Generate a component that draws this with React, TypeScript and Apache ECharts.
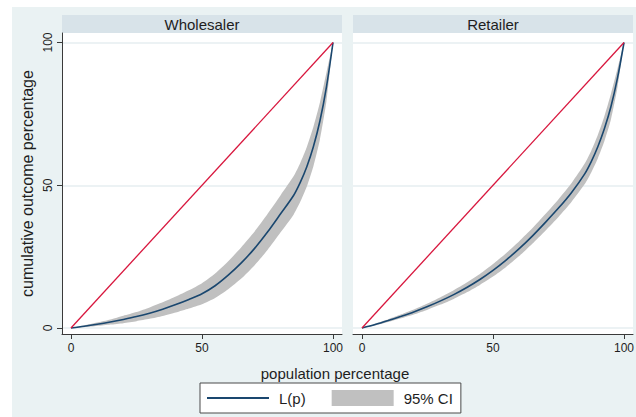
import React, { useEffect, useRef } from "react";
import * as echarts from "echarts";

// population share (x) at which the Lorenz curves were read
const popShares = [0, 5, 10, 15, 20, 25, 30, 35, 40, 45, 50, 55, 60, 65, 70, 75, 80, 85, 87.5, 90, 92.5, 95, 97.5, 100];

// Wholesaler panel
const wholesalerL = [0, 0.6, 1.3, 2.1, 3.0, 4.0, 5.2, 6.6, 8.2, 10.0, 12.0, 14.8, 18.5, 22.8, 27.8, 33.6, 40.0, 46.5, 51.0, 56.5, 63.5, 72.5, 84.5, 100];
const wholesalerLo = [0, 0.3, 0.7, 1.2, 1.7, 2.4, 3.2, 4.2, 5.4, 6.8, 8.3, 10.5, 13.6, 17.3, 21.9, 27.3, 33.5, 39.8, 44.2, 49.6, 56.6, 66.0, 79.5, 100];
const wholesalerHi = [0, 0.9, 1.9, 3.0, 4.3, 5.6, 7.2, 9.0, 11.0, 13.2, 15.7, 19.1, 23.4, 28.3, 33.7, 39.9, 46.5, 53.2, 57.8, 63.4, 70.4, 79.0, 89.5, 100];

// Retailer panel
const retailerL = [0, 1.2, 2.6, 4.1, 5.7, 7.5, 9.5, 11.7, 14.2, 17.0, 20.2, 23.8, 27.8, 32.2, 37.0, 42.0, 47.5, 54.0, 58.3, 63.5, 69.8, 77.5, 87.5, 100];
const retailerLo = [0, 0.9, 2.1, 3.4, 4.8, 6.4, 8.2, 10.2, 12.5, 15.1, 18.0, 21.4, 25.2, 29.5, 34.1, 38.9, 44.2, 50.4, 54.5, 59.4, 65.4, 73.0, 84.2, 100];
const retailerHi = [0, 1.5, 3.1, 4.8, 6.6, 8.6, 10.8, 13.2, 15.9, 18.9, 22.4, 26.2, 30.4, 34.9, 39.9, 45.1, 50.8, 57.6, 62.1, 67.6, 74.2, 82.0, 90.8, 100];

// line of equality endpoints
const equalityX = [0, 100];
const equalityY = [0, 100];

const tickValues = [0, 50, 100];
const panelTitles = ["Wholesaler", "Retailer"];
const xTitle = "population percentage";
const yTitle = "cumulative outcome percentage";
const legendNames = ["L(p)", "95% CI"];

const FONT = "'Liberation Sans', Arial, Helvetica, sans-serif";
const BLUE = "#1a476f";
const RED = "#d8173e";
const CI_COLOR = "#c0c0c0";
const BG = "#eaf2f3";
const STRIP = "#d8e3e9";
const GRID_LINE = "#e6eef0";
const AXIS = "#3a3a3a";
const TEXT = "#1e1e1e";

const X_MIN = -3.43;
const X_MAX = 103.43;
const Y_MIN = -2.1;
const Y_MAX = 103.33;

function zip(xs: number[], ys: number[]) {
  return xs.map((x, i) => [x, ys[i]]);
}

function bandSeries(idx: number, lo: number[], hi: number[]) {
  const data = popShares.map((p, i) => [p, lo[i], hi[i]]);
  return {
    type: "custom",
    name: legendNames[1],
    xAxisIndex: idx,
    yAxisIndex: idx,
    silent: true,
    itemStyle: { color: CI_COLOR },
    encode: { x: 0, y: [1, 2] },
    data,
    renderItem: (params: any, api: any) => {
      if (params.dataIndex !== 0) return null;
      const upper = data.map((d) => api.coord([d[0], d[2]]));
      const lower = data
        .slice()
        .reverse()
        .map((d) => api.coord([d[0], d[1]]));
      return {
        type: "polygon",
        shape: { points: upper.concat(lower), smooth: 0.2 },
        style: { fill: CI_COLOR },
      };
    },
  };
}

function xAxisCfg(idx: number) {
  return {
    type: "value",
    gridIndex: idx,
    min: X_MIN,
    max: X_MAX,
    axisLine: { show: true, onZero: false, lineStyle: { color: AXIS, width: 1 } },
    axisTick: { show: true, customValues: tickValues, length: 5, lineStyle: { color: AXIS, width: 1 } },
    axisLabel: {
      show: true,
      customValues: tickValues,
      margin: 8,
      fontSize: 12,
      color: TEXT,
      fontFamily: FONT,
    },
    splitLine: { show: false },
  };
}

function yAxisCfg(idx: number) {
  const left = idx === 0;
  return {
    type: "value",
    gridIndex: idx,
    min: Y_MIN,
    max: Y_MAX,
    name: left ? yTitle : "",
    nameLocation: "middle",
    nameGap: 27,
    nameTextStyle: { fontSize: 16, color: TEXT, fontFamily: FONT },
    axisLine: { show: left, onZero: false, lineStyle: { color: AXIS, width: 1 } },
    axisTick: { show: left, customValues: tickValues, length: 5, lineStyle: { color: AXIS, width: 1 } },
    axisLabel: {
      show: left,
      customValues: tickValues,
      rotate: 90,
      margin: 8,
      fontSize: 12,
      color: TEXT,
      fontFamily: FONT,
    },
    splitLine: { show: true, customValues: tickValues, lineStyle: { color: GRID_LINE, width: 1.5 } },
  };
}

function panelSeries(idx: number, L: number[], lo: number[], hi: number[]) {
  return [
    bandSeries(idx, lo, hi),
    {
      type: "line",
      name: legendNames[0],
      xAxisIndex: idx,
      yAxisIndex: idx,
      data: zip(popShares, L),
      symbol: "none",
      showSymbol: false,
      smooth: 0.3,
      silent: true,
      lineStyle: { color: BLUE, width: 1.6 },
      itemStyle: { color: BLUE },
    },
    {
      type: "line",
      name: "equality",
      xAxisIndex: idx,
      yAxisIndex: idx,
      data: zip(equalityX, equalityY),
      symbol: "none",
      silent: true,
      lineStyle: { color: RED, width: 1.3 },
      itemStyle: { color: RED },
    },
  ];
}

export default function App() {
  const ref = useRef<HTMLDivElement>(null);

  useEffect(() => {
    if (!ref.current) return;
    const chart = echarts.init(ref.current, null, { renderer: "svg", width: 636, height: 417 });
    const panels = [
      { left: 62, title: panelTitles[0] },
      { left: 353, title: panelTitles[1] },
    ];
    const option: any = {
      animation: false,
      backgroundColor: "#ffffff",
      textStyle: { fontFamily: FONT },
      grid: panels.map((p) => ({
        left: p.left,
        top: 33,
        width: 280,
        height: 301,
        show: true,
        backgroundColor: "#ffffff",
        borderWidth: 0,
        containLabel: false,
        outerBoundsMode: "none",
      })),
      xAxis: [xAxisCfg(0), xAxisCfg(1)],
      yAxis: [yAxisCfg(0), yAxisCfg(1)],
      legend: {
        show: true,
        left: 200,
        top: 383,
        orient: "horizontal",
        selectedMode: false,
        padding: [7, 8, 7, 7],
        itemWidth: 62,
        itemHeight: 16,
        itemGap: 26,
        borderColor: "#4a4a4a",
        borderWidth: 1,
        borderRadius: 0,
        backgroundColor: "#ffffff",
        textStyle: { fontSize: 15, color: TEXT, fontFamily: FONT, padding: [0, 0, 0, 5] },
        data: [
          {
            name: legendNames[0],
            icon: "path://M0,7 L62,7 L62,9 L0,9 Z",
            itemStyle: { color: BLUE },
          },
          { name: legendNames[1], icon: "rect", itemStyle: { color: CI_COLOR } },
        ],
      },
      graphic: [
        {
          type: "rect",
          z: -10,
          silent: true,
          shape: { x: 12, y: 7, width: 624, height: 410 },
          style: { fill: BG },
        },
        ...panels.flatMap((p) => [
          {
            type: "rect",
            silent: true,
            shape: { x: p.left, y: 15, width: 280, height: 18 },
            style: { fill: STRIP },
          },
          {
            type: "text",
            silent: true,
            x: p.left + 140,
            y: 24,
            style: {
              text: p.title,
              fontSize: 15,
              fontFamily: FONT,
              fill: TEXT,
              align: "center",
              verticalAlign: "middle",
            },
          },
        ]),
        {
          type: "text",
          silent: true,
          x: 335,
          y: 373,
          style: {
            text: xTitle,
            fontSize: 15,
            fontFamily: FONT,
            fill: TEXT,
            align: "center",
            verticalAlign: "middle",
          },
        },
      ],
      series: [
        ...panelSeries(0, wholesalerL, wholesalerLo, wholesalerHi),
        ...panelSeries(1, retailerL, retailerLo, retailerHi),
      ],
    };
    chart.setOption(option);
    return () => chart.dispose();
  }, []);

  return (
    <div
      ref={ref}
      style={{ position: "fixed", left: 0, top: 0, width: 636, height: 417 }}
    />
  );
}
